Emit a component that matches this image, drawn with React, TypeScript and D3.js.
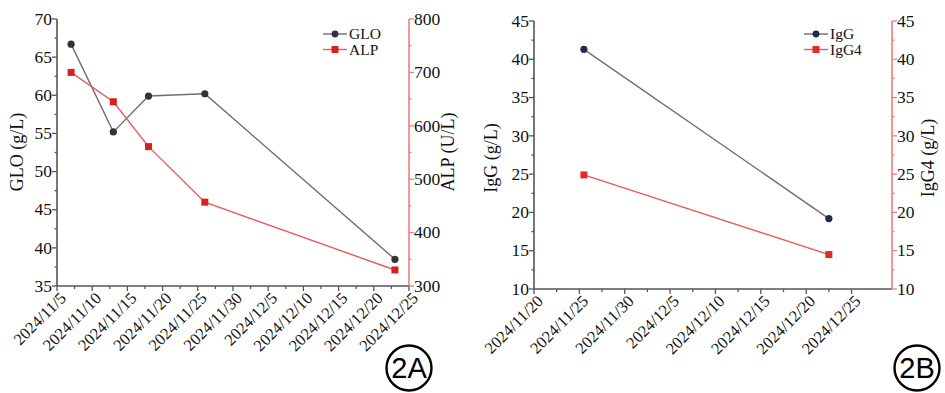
import * as d3 from 'd3'

// ---- data ----
const datesA = ['2024-11-07', '2024-11-13', '2024-11-18', '2024-11-26', '2024-12-23']
const gloValues = [66.7, 55.2, 59.9, 60.2, 38.5]
const alpValues = [700, 645, 561, 457, 330]

const datesB = ['2024-11-25T12:00', '2024-12-22T12:00']
const iggValues = [41.3, 19.2]
const igg4Values = [24.9, 14.5]

const ticksA = ['2024-11-05', '2024-11-10', '2024-11-15', '2024-11-20', '2024-11-25', '2024-11-30',
  '2024-12-05', '2024-12-10', '2024-12-15', '2024-12-20', '2024-12-25']
const ticksB = ['2024-11-20', '2024-11-25', '2024-11-30', '2024-12-05', '2024-12-10',
  '2024-12-15', '2024-12-20', '2024-12-25']

const gloTicks = [35, 40, 45, 50, 55, 60, 65, 70]
const alpTicks = [300, 400, 500, 600, 700, 800]
const iggTicks = [10, 15, 20, 25, 30, 35, 40, 45]

const parse = (s: string) => (s.length > 10 ? new Date(s) : new Date(s + 'T00:00'))
const fmt = (d: Date) => `${d.getFullYear()}/${d.getMonth() + 1}/${d.getDate()}`

const SERIF = '"Liberation Serif", "DejaVu Serif", serif'
const SANS = '"Liberation Sans", Arial, sans-serif'
const AXIS = '#555'
const RED_AXIS = '#f07c80'
const GRAY_LINE = '#6e6e6e'
const RED_LINE = '#e85a5c'
const RED_MARK = '#d8201f'

interface Series {
  name: string
  values: number[]
  side: 'left' | 'right'
  line: string
  mark: string
  shape: 'circle' | 'square'
}

interface PanelProps {
  x0: number
  x1: number
  y0: number
  y1: number
  domain: [Date, Date]
  xTicks: string[]
  dates: string[]
  leftDomain: [number, number]
  rightDomain: [number, number]
  leftTicks: number[]
  rightTicks: number[]
  series: Series[]
  leftTitle: string
  rightTitle: string
  leftTitleX: number
  rightTitleX: number
  titleY: number
  legendX: number
  tag: string
}

function Panel(p: PanelProps) {
  const x = d3.scaleTime().domain(p.domain).range([p.x0, p.x1])
  const yl = d3.scaleLinear().domain(p.leftDomain).range([p.y0, p.y1])
  const yr = d3.scaleLinear().domain(p.rightDomain).range([p.y0, p.y1])
  const xt = p.xTicks.map(parse)
  const minorX = xt.slice(0, -1).map((d, i) => new Date((+d + +xt[i + 1]) / 2))
  const pts = p.dates.map(parse)
  const minorOf = (t: number[]) => t.slice(0, -1).map((v, i) => (v + t[i + 1]) / 2)

  return (
    <g>
      {/* lines and markers */}
      {p.series.map((s) => {
        const y = s.side === 'left' ? yl : yr
        const path = d3.line<number>().x((_, i) => x(pts[i])).y((v) => y(v))(s.values)
        return (
          <g key={s.name}>
            <path d={path ?? ''} fill="none" stroke={s.line} strokeWidth={1.4} />
            {s.values.map((v, i) =>
              s.shape === 'circle' ? (
                <circle key={i} cx={x(pts[i])} cy={y(v)} r={3.6} fill={s.mark} />
              ) : (
                <rect key={i} x={x(pts[i]) - 3.5} y={y(v) - 3.5} width={7} height={7} fill={s.mark} />
              )
            )}
          </g>
        )
      })}

      {/* x axis */}
      <line x1={p.x0} x2={p.x1} y1={p.y0} y2={p.y0} stroke={AXIS} strokeWidth={1.6} />
      {xt.map((d, i) => (
        <g key={i} transform={`translate(${x(d)},${p.y0})`}>
          <line y1={0} y2={5} stroke={AXIS} strokeWidth={1.3} />
          <text
            transform="translate(6,9) rotate(-45)"
            textAnchor="end"
            dy="0.35em"
            fontFamily={SERIF}
            fontSize={16.5}
            fill="#111"
          >
            {fmt(d)}
          </text>
        </g>
      ))}
      {minorX.map((d, i) => (
        <line key={i} x1={x(d)} x2={x(d)} y1={p.y0} y2={p.y0 + 3} stroke={AXIS} strokeWidth={1.3} />
      ))}

      {/* left axis */}
      <line x1={p.x0} x2={p.x0} y1={p.y0} y2={p.y1} stroke={AXIS} strokeWidth={1.6} />
      {p.leftTicks.map((v) => (
        <g key={v} transform={`translate(${p.x0},${yl(v)})`}>
          <line x1={0} x2={-5} stroke={AXIS} strokeWidth={1.3} />
          <text x={-5} dy="0.33em" textAnchor="end" fontFamily={SERIF} fontSize={17.5} fill="#111">
            {v}
          </text>
        </g>
      ))}
      {minorOf(p.leftTicks).map((v) => (
        <line key={v} x1={p.x0} x2={p.x0 - 2.5} y1={yl(v)} y2={yl(v)} stroke={AXIS} strokeWidth={1.3} />
      ))}

      {/* right axis */}
      <line x1={p.x1} x2={p.x1} y1={p.y0} y2={p.y1} stroke={RED_AXIS} strokeWidth={1.6} />
      {p.rightTicks.map((v) => (
        <g key={v} transform={`translate(${p.x1},${yr(v)})`}>
          <line x1={0} x2={5} stroke={RED_AXIS} strokeWidth={1.3} />
          <text x={5} dy="0.33em" fontFamily={SERIF} fontSize={17.5} fill="#111">
            {v}
          </text>
        </g>
      ))}
      {minorOf(p.rightTicks).map((v) => (
        <line key={v} x1={p.x1} x2={p.x1 + 2.5} y1={yr(v)} y2={yr(v)} stroke={RED_AXIS} strokeWidth={1.3} />
      ))}

      {/* axis titles */}
      <text
        transform={`translate(${p.leftTitleX},${p.titleY}) rotate(-90)`}
        textAnchor="middle"
        fontFamily={SERIF}
        fontSize={18}
        fill="#111"
      >
        {p.leftTitle}
      </text>
      <text
        transform={`translate(${p.rightTitleX},${p.titleY}) rotate(-90)`}
        textAnchor="middle"
        fontFamily={SERIF}
        fontSize={18}
        fill="#111"
      >
        {p.rightTitle}
      </text>

      {/* legend */}
      {p.series.map((s, i) => {
        const ly = 34 + i * 15.5
        return (
          <g key={s.name} transform={`translate(${p.legendX},${ly})`}>
            <line x1={0} x2={24} stroke={s.line} strokeWidth={1.4} />
            {s.shape === 'circle' ? (
              <circle cx={12} r={3.4} fill={s.mark} />
            ) : (
              <rect x={8.5} y={-3.5} width={7} height={7} fill={s.mark} />
            )}
            <text x={26} dy="0.35em" fontFamily={SERIF} fontSize={15.5} fill="#111">
              {s.name}
            </text>
          </g>
        )
      })}

      {/* panel tag */}
      <g transform={`translate(${p.x1 + (p.tag === '2A' ? 0 : 25)},368)`}>
        <circle r={22.5} fill="none" stroke="#000" strokeWidth={2.4} />
        <text textAnchor="middle" dy="0.36em" fontFamily={SANS} fontSize={29} fill="#000">
          {p.tag}
        </text>
      </g>
    </g>
  )
}

export default function App() {
  return (
    <svg
      width={945}
      height={393}
      viewBox="0 0 945 393"
      style={{ position: 'absolute', left: 0, top: 0, background: '#fff' }}
    >
      <rect width={945} height={393} fill="#fff" />
      <Panel
        x0={57}
        x1={409}
        y0={286}
        y1={19}
        domain={[parse('2024-11-05'), parse('2024-12-25')]}
        xTicks={ticksA}
        dates={datesA}
        leftDomain={[35, 70]}
        rightDomain={[300, 800]}
        leftTicks={gloTicks}
        rightTicks={alpTicks}
        series={[
          { name: 'GLO', values: gloValues, side: 'left', line: GRAY_LINE, mark: '#333', shape: 'circle' },
          { name: 'ALP', values: alpValues, side: 'right', line: RED_LINE, mark: RED_MARK, shape: 'square' },
        ]}
        leftTitle="GLO (g/L)"
        rightTitle="ALP (U/L)"
        leftTitleX={23}
        rightTitleX={454}
        titleY={152}
        legendX={323}
        tag="2A"
      />
      <Panel
        x0={534}
        x1={892}
        y0={289}
        y1={21}
        domain={[parse('2024-11-20'), parse('2024-12-29T11:00')]}
        xTicks={ticksB}
        dates={datesB}
        leftDomain={[10, 45]}
        rightDomain={[10, 45]}
        leftTicks={iggTicks}
        rightTicks={iggTicks}
        series={[
          { name: 'IgG', values: iggValues, side: 'left', line: GRAY_LINE, mark: '#1c2c4a', shape: 'circle' },
          { name: 'IgG4', values: igg4Values, side: 'right', line: RED_LINE, mark: '#e42a2a', shape: 'square' },
        ]}
        leftTitle="IgG (g/L)"
        rightTitle="IgG4 (g/L)"
        leftTitleX={497}
        rightTitleX={934}
        titleY={158}
        legendX={804}
        tag="2B"
      />
    </svg>
  )
}
